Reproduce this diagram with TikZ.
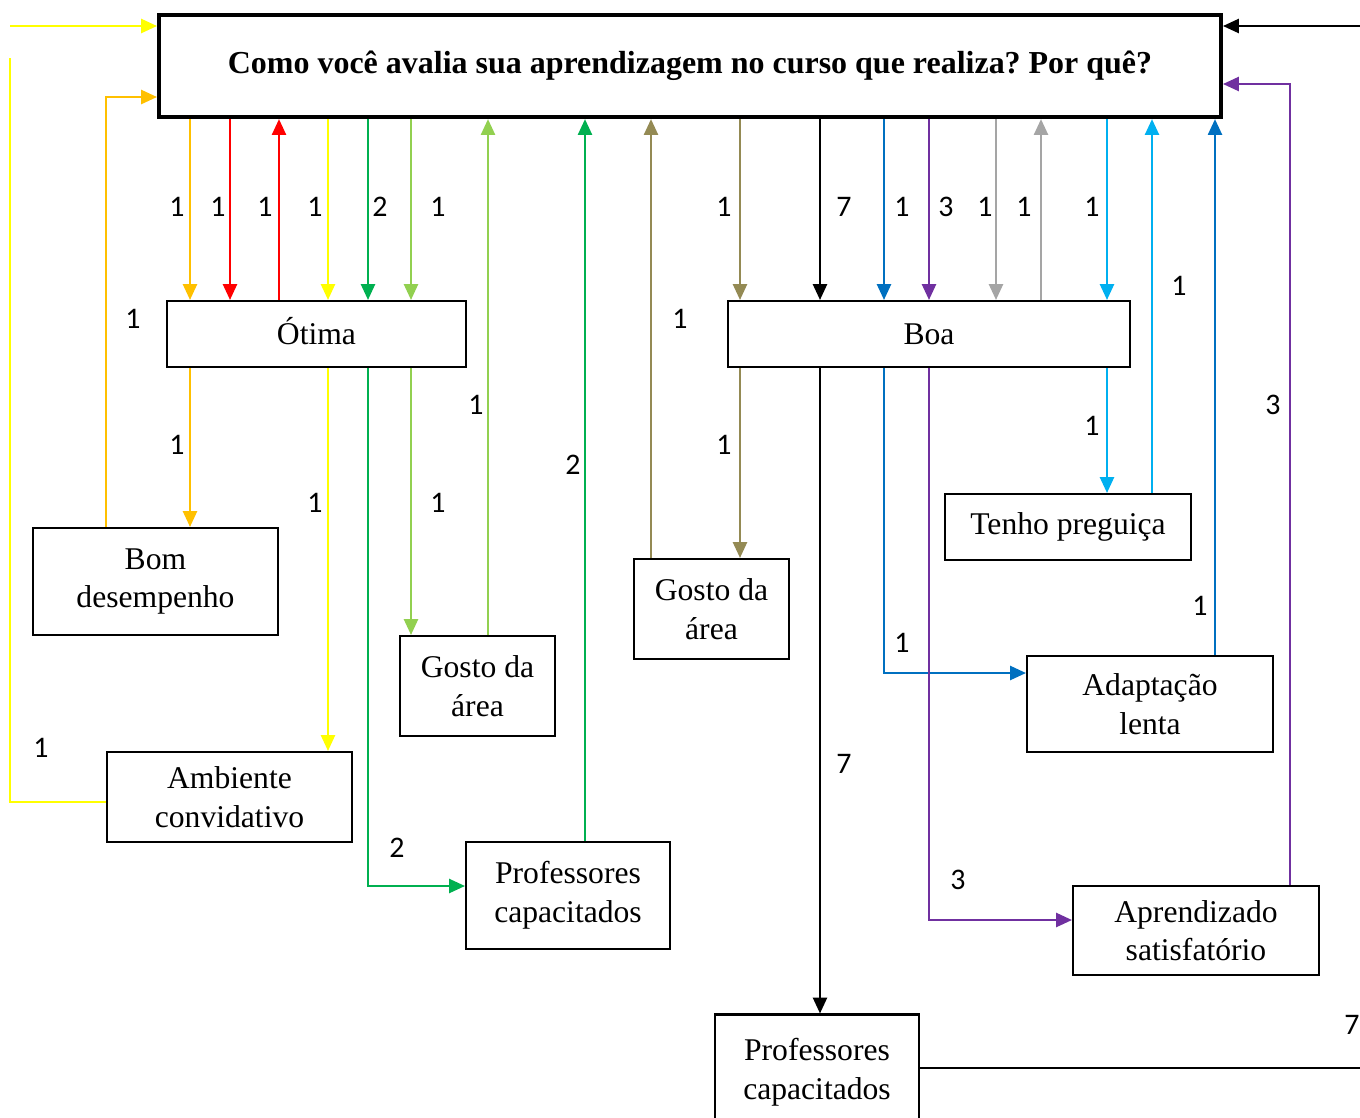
\documentclass[tikz,border=0pt]{standalone}
\usepackage{fontspec}
\setmainfont{Liberation Serif}
\newfontfamily\numfont{Carlito}
\usetikzlibrary{arrows.meta}
\frenchspacing
\definecolor{cOrange}{HTML}{FFC000}
\definecolor{cRed}{HTML}{FF0000}
\definecolor{cYellow}{HTML}{FFFF00}
\definecolor{cGreen}{HTML}{00B050}
\definecolor{cLime}{HTML}{92D050}
\definecolor{cOlive}{HTML}{948A54}
\definecolor{cBlue}{HTML}{0070C0}
\definecolor{cPurple}{HTML}{7030A0}
\definecolor{cGray}{HTML}{A5A5A5}
\definecolor{cCyan}{HTML}{00B0F0}

\begin{document}
\begin{tikzpicture}[x=0.02cm, y=-0.02cm,
	box/.style={draw, line width=1.2pt, inner sep=0pt, align=center, font=\fontsize{18}{22}\selectfont},
	num/.style={font=\numfont\fontsize{17}{20}\selectfont, inner sep=0pt},
	wire/.style={line width=1.2pt},
	arr/.style={wire, -{Triangle[length=9pt,width=8pt]}}]
			\useasboundingbox (0,0) rectangle (1360,1117);
			
			% boxes
			\node[box, line width=2.4pt, minimum width=21.24cm, minimum height=2.04cm, font=\bfseries\fontsize{18.2}{22}\selectfont] (q) at (690,66) {Como você avalia sua aprendizagem no curso que realiza? Por quê?};
			\node[box, minimum width=5.98cm, minimum height=1.32cm, text height=12pt] (otima) at (316.5,334) {Ótima};
			\node[box, minimum width=8.04cm, minimum height=1.32cm] (boa) at (929,334) {Boa};
			\node[box, minimum width=4.9cm, minimum height=2.14cm] (bom) at (155.5,581.5) {Bom\\desempenho};
			\node[box, minimum width=3.1cm, minimum height=2cm] (gostoL) at (477.5,686) {Gosto da\\área};
			\node[box, minimum width=4.9cm, minimum height=1.8cm] (amb) at (229.5,797) {Ambiente\\convidativo};
			\node[box, minimum width=4.08cm, minimum height=2.14cm] (profL) at (568,895.5) {Professores\\capacitados};
			\node[box, minimum width=3.1cm, minimum height=2cm] (gostoR) at (711.5,609) {Gosto da\\área};
			\node[box, minimum width=4.92cm, minimum height=1.32cm] (tenho) at (1068,527) {Tenho preguiça};
			\node[box, minimum width=4.92cm, minimum height=1.92cm] (adap) at (1150,704) {Adaptação\\lenta};
			\node[box, minimum width=4.92cm, minimum height=1.78cm] (aprend) at (1196,930.5) {Aprendizado\\satisfatório};
			\node[box, minimum width=4.08cm, minimum height=2.3cm] (profB) at (817,1072) {Professores\\capacitados};
			
			% question -> answers
			\foreach \x/\c in {190/cOrange, 230/cRed, 328/cYellow, 368/cGreen, 411/cLime}
			\draw[arr, \c] (q.south -| \x,0) -- (otima.north -| \x,0);
			\foreach \x/\c in {740/cOlive, 820/black, 884/cBlue, 929/cPurple, 996/cGray, 1107/cCyan}
			\draw[arr, \c] (q.south -| \x,0) -- (boa.north -| \x,0);
			\draw[arr, cRed] (otima.north -| 279,0) -- (q.south -| 279,0);
			\draw[arr, cGray] (boa.north -| 1041,0) -- (q.south -| 1041,0);
			
			% answers -> reasons
			\draw[arr, cOrange] (otima.south -| 190,0) -- (bom.north -| 190,0);
			\draw[arr, cYellow] (otima.south -| 328,0) -- (amb.north -| 328,0);
			\draw[arr, cLime] (otima.south -| 411,0) -- (gostoL.north -| 411,0);
			\draw[arr, cGreen] (otima.south -| 368,0) |- (profL.west |- 0,886);
			\draw[arr, cOlive] (boa.south -| 740,0) -- (gostoR.north -| 740,0);
			\draw[arr] (boa.south -| 820,0) -- (profB.north -| 820,0);
			\draw[arr, cCyan] (boa.south -| 1107,0) -- (tenho.north -| 1107,0);
			\draw[arr, cBlue] (boa.south -| 884,0) |- (adap.west |- 0,673);
			\draw[arr, cPurple] (boa.south -| 929,0) |- (aprend.west |- 0,920);
			
			% reasons -> question
			\draw[arr, cOrange] (bom.north -| 106,0) |- (q.west |- 0,97);
			\draw[wire, cYellow] (amb.west |- 0,802) -| (10,58);
			\draw[arr, cYellow] (10,26) -- (q.west |- 0,26);
			\draw[arr, cLime] (gostoL.north -| 488,0) -- (q.south -| 488,0);
			\draw[arr, cGreen] (profL.north -| 585,0) -- (q.south -| 585,0);
			\draw[arr, cOlive] (gostoR.north -| 651,0) -- (q.south -| 651,0);
			\draw[arr, cCyan] (tenho.north -| 1152,0) -- (q.south -| 1152,0);
			\draw[arr, cBlue] (adap.north -| 1215,0) -- (q.south -| 1215,0);
			\draw[arr, cPurple] (aprend.north -| 1290,0) |- (q.east |- 0,84);
			\draw[wire] (profB.east |- 0,1068) -- (1365,1068);
			\draw[arr] (1365,26) -- (q.east |- 0,26);
			
			% counts
			\foreach \x/\t [count=\i] in {177/1, 218/1, 265/1, 315/1, 380/2, 438/1, 724/1, 844/7, 902/1, 946/3, 985/1, 1024/1, 1092/1}
			\node[num] (n\i) at (\x,207) {\t};
			\foreach \x/\y/\t [count=\i] in {133/319/1, 680/319/1, 1179/286/1, 177/445/1, 476/405/1, 573/465/2, 315/503/1, 438/503/1, 724/445/1, 1092/426/1, 1273/405/3, 1200/606/1, 902/643/1, 41/748/1, 397/848/2, 844/764/7, 958/880/3, 1352/1025/7}
			\node[num] (m\i) at (\x,\y) {\t};
		\end{tikzpicture}
\end{document}
